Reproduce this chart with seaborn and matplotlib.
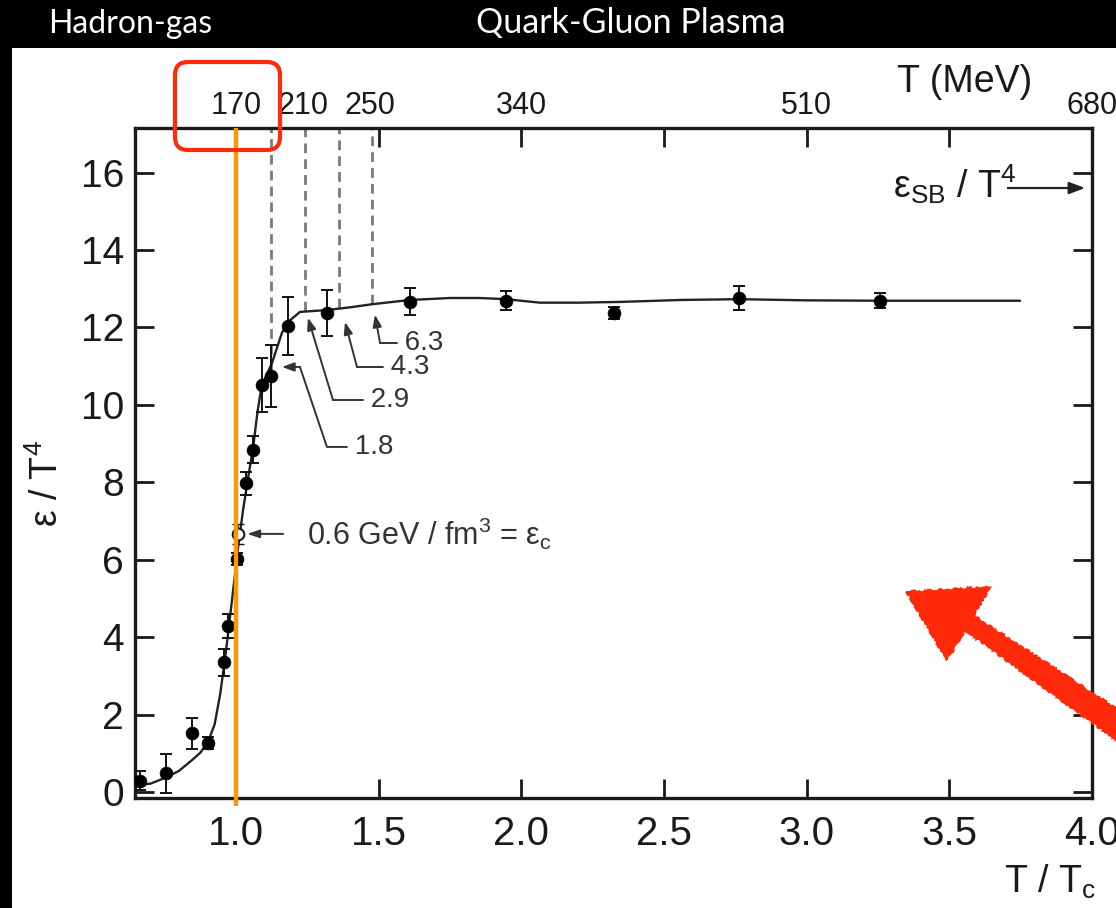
import matplotlib
matplotlib.use("Agg")
import numpy as np
import pandas as pd
import matplotlib.pyplot as plt
import seaborn as sns
from matplotlib.patches import FancyBboxPatch, Polygon, Rectangle

# ---- lattice data: energy density over T^4 versus T/Tc ----
t_ratio = [0.664, 0.755, 0.846, 0.902, 0.958, 0.972, 1.003, 1.035, 1.060,
           1.090, 1.123, 1.182, 1.319, 1.610, 1.946, 2.325, 2.763, 3.257]
eps_t4 = [0.30, 0.49, 1.52, 1.27, 3.36, 4.29, 6.02, 7.98, 8.84,
          10.52, 10.75, 12.04, 12.37, 12.66, 12.69, 12.38, 12.76, 12.69]
eps_err = [0.25, 0.50, 0.40, 0.15, 0.35, 0.30, 0.15, 0.30, 0.35,
           0.70, 0.80, 0.75, 0.60, 0.35, 0.25, 0.15, 0.30, 0.20]

# point marking the critical energy density
crit_t = [1.007]
crit_eps = [6.67]
crit_err = [0.25]

# smooth fit through the data
fit_t = [0.646, 0.700, 0.755, 0.800, 0.846, 0.875, 0.902, 0.925, 0.945, 0.965,
         0.985, 1.007, 1.025, 1.042, 1.060, 1.075, 1.090, 1.126, 1.161, 1.182,
         1.224, 1.319, 1.400, 1.477, 1.610, 1.750, 1.855, 1.946, 2.065, 2.200,
         2.350, 2.560, 2.763, 3.000, 3.257, 3.500, 3.748]
fit_eps = [0.18, 0.22, 0.38, 0.55, 0.83, 1.02, 1.30, 1.75, 2.55, 3.65,
           4.90, 6.30, 7.30, 8.10, 8.90, 9.80, 10.50, 11.08, 11.86, 12.14,
           12.40, 12.45, 12.52, 12.60, 12.71, 12.76, 12.76, 12.73, 12.64, 12.64,
           12.66, 12.71, 12.73, 12.70, 12.69, 12.69, 12.69]

# energy-density markers (GeV/fm^3) with their T/Tc and curve height
edens_labels = ["1.8", "2.9", "4.3", "6.3"]
edens_t = [1.123, 1.242, 1.361, 1.477]
edens_eps = [10.90, 12.43, 12.50, 12.60]

EPS_SB = 15.6          # Stefan-Boltzmann limit
T_C_MEV = 170.0        # critical temperature
TC_RATIO = 1.0

x_ticks = [1.0, 1.5, 2.0, 2.5, 3.0, 3.5, 4.0]
x_ticklabels = ["1.0", "1.5", "2.0", "2.5", "3.0", "3.5", "4.0"]
y_ticks = [0, 2, 4, 6, 8, 10, 12, 14, 16]
top_mev = [170, 210, 250, 340, 510, 680]

data_df = pd.DataFrame({"t": t_ratio, "eps": eps_t4, "err": eps_err})
fit_df = pd.DataFrame({"t": fit_t, "eps": fit_eps})

sns.set_theme(style="ticks")
plt.rcParams["font.family"] = ["Liberation Sans", "DejaVu Sans"]
plt.rcParams["mathtext.default"] = "regular"

INK = "#1a1a1a"
RED = "#ff2a0a"
ORANGE = "#ff9500"

fig = plt.figure(figsize=(11.16, 9.08), dpi=100, facecolor="black")
fig.patches.append(Rectangle((0.12, 0.0), 11.04, 8.60, transform=fig.dpi_scale_trans,
                             facecolor="white", edgecolor="none", zorder=-5))

ax = fig.add_axes([135 / 1116, 110 / 908, (1092 - 135) / 1116, (798 - 128) / 908])
ax.set_facecolor("white")
ax.set_xlim(0.646, 4.0)
ax.set_ylim(-0.15, 17.15)

# fit curve and data
sns.lineplot(data=fit_df, x="t", y="eps", ax=ax, color="#222222", lw=1.7, zorder=3)
ax.errorbar(data_df["t"], data_df["eps"], yerr=data_df["err"], fmt="none",
            ecolor="#111111", elinewidth=1.4, capsize=4, capthick=1.4, zorder=4)
sns.scatterplot(data=data_df, x="t", y="eps", ax=ax, s=85, color="black",
                edgecolor="black", linewidth=0.5, zorder=5, legend=False)
ax.errorbar(crit_t, crit_eps, yerr=crit_err, fmt="none", ecolor="#111111",
            elinewidth=1.2, capsize=4, zorder=4)
ax.scatter(crit_t, crit_eps, s=70, facecolor="white", edgecolor="#111111",
           linewidth=1.4, zorder=5)

# dashed guides from the top frame down to the curve
ytop = ax.get_ylim()[1]
ax.vlines(edens_t, edens_eps, ytop, colors="#7a7a7a", linestyles=(0, (3.5, 2.2)),
          lw=2.0, zorder=2)

# critical temperature line
ax.vlines([TC_RATIO], -0.36, ytop, colors=ORANGE, lw=3.2, zorder=6, clip_on=False)

# axes styling
for sp in ax.spines.values():
    sp.set_linewidth(2.4)
    sp.set_color(INK)
ax.set_xticks(x_ticks)
ax.set_xticklabels(x_ticklabels)
ax.set_yticks(y_ticks)
ax.tick_params(direction="in", length=14, width=2.0, top=True, right=True,
               colors=INK)
ax.tick_params(axis="y", labelsize=28, pad=8)
ax.tick_params(axis="x", labelsize=29, pad=12)
ax.set_xlabel("")
ax.set_ylabel("")

sec = ax.secondary_xaxis("top", functions=(lambda t: t * T_C_MEV, lambda m: m / T_C_MEV))
sec.set_xticks(top_mev)
sec.set_xticklabels([str(v) for v in top_mev])
sec.tick_params(length=0, labelsize=22, pad=5, colors=INK)
sec.spines["top"].set_visible(False)

# leader lines for the energy densities (offsets in pixels from the arrow tip)
leader_tips = [(1.161, 10.98), (1.252, 12.25), (1.382, 12.14), (1.487, 12.33)]
leader_paths = [
    [(0, 0), (18, 0), (45, -80), (65, -80)],
    [(0, 0), (25, -82), (55, -82)],
    [(0, 0), (12, -45), (38, -45)],
    [(0, 0), (5, -28), (22, -28)],
]
to_disp = ax.transData
to_data = ax.transData.inverted()
for lab, tip, path in zip(edens_labels, leader_tips, leader_paths):
    tx, ty = to_disp.transform(tip)
    pts = to_data.transform([(tx + dx, ty + dy) for dx, dy in path])
    ax.plot(pts[1:, 0], pts[1:, 1], color="#333333", lw=1.4, zorder=6)
    ax.annotate("", xy=tip, xytext=tuple(pts[1]),
                arrowprops=dict(arrowstyle="-|>,head_length=0.6,head_width=0.22",
                                color="#333333", lw=1.4, shrinkA=0, shrinkB=0),
                zorder=6)
    ax.text(pts[-1, 0], pts[-1, 1], " " + lab, fontsize=20, color="#333333",
            va="center", ha="left")

# critical energy density arrow
ax.annotate("", xy=(1.039, crit_eps[0]), xytext=(1.165, crit_eps[0]),
            arrowprops=dict(arrowstyle="-|>,head_length=0.6,head_width=0.2",
                            color="#333333", lw=1.4, shrinkA=0, shrinkB=0))
ax.text(1.25, crit_eps[0], "0.6 GeV / fm$^{3}$ = ε$_{c}$", fontsize=22,
        color="#333333", va="center", ha="left")

# Stefan-Boltzmann limit arrow
ax.annotate("", xy=(3.976, EPS_SB), xytext=(3.705, EPS_SB),
            arrowprops=dict(arrowstyle="-|>,head_length=0.8,head_width=0.3",
                            color="#222222", lw=1.6, shrinkA=0, shrinkB=0))
ax.text(3.735, EPS_SB - 0.25, "ε$_{SB}$ / T$^{4}$", fontsize=27, color=INK,
        va="baseline", ha="right", zorder=7)

# axis titles
fig.text(9.65, 9.08 - 0.92, "T (MeV)", transform=fig.dpi_scale_trans, fontsize=27,
         color=INK, ha="center", va="baseline")
fig.text(10.50, 9.08 - 8.93, "T / T$_{c}$", transform=fig.dpi_scale_trans, fontsize=27,
         color=INK, ha="center", va="baseline")
fig.text(0.47, 9.08 - 4.83, "ε / T$^{4}$", transform=fig.dpi_scale_trans, fontsize=27,
         color=INK, ha="center", va="center", rotation=90)

# header band
fig.text(0.48, 9.08 - 0.33, "Hadron-gas", transform=fig.dpi_scale_trans,
         fontsize=23, color="white", family=["Lato", "DejaVu Sans"], va="baseline")
fig.text(4.76, 9.08 - 0.33, "Quark-Gluon Plasma", transform=fig.dpi_scale_trans,
         fontsize=24.5, color="white", family=["Lato", "DejaVu Sans"], va="baseline")

# highlight box around Tc on the top scale
fig.patches.append(FancyBboxPatch((1.75, 9.08 - 1.50), 1.05, 0.88,
                                  boxstyle="round,pad=0,rounding_size=0.13",
                                  transform=fig.dpi_scale_trans, facecolor="none",
                                  edgecolor=RED, lw=3.0, zorder=10))

# hand-drawn pointer arrow
head = [(9.07, 9.08 - 5.92), (9.90, 9.08 - 5.87), (9.47, 9.08 - 6.60)]
shaft = [(9.535, 9.08 - 6.216), (9.625, 9.08 - 6.084),
         (11.324, 9.08 - 7.193), (11.176, 9.08 - 7.407)]
for poly in (head, shaft):
    p = Polygon(poly, closed=True, transform=fig.dpi_scale_trans,
                facecolor=RED, edgecolor=RED, lw=1.5, zorder=10)
    p.set_sketch_params(scale=1.0, length=10, randomness=10)
    fig.patches.append(p)

fig.savefig("out.png", dpi=100, facecolor="black")
